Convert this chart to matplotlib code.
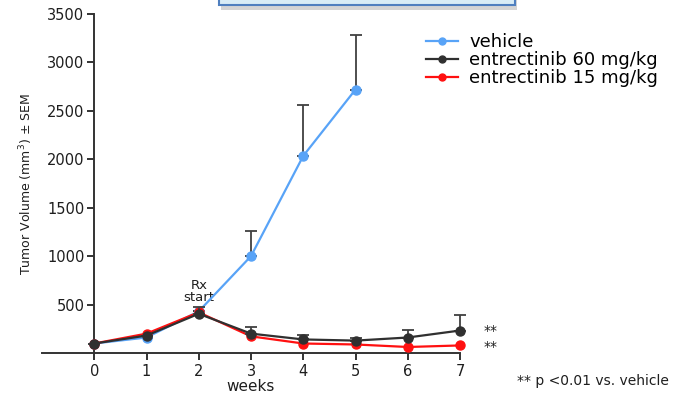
import matplotlib
matplotlib.use("Agg")
import matplotlib.pyplot as plt
from matplotlib.patches import Rectangle
from matplotlib.lines import Line2D
import numpy as np

plt.rcParams["font.family"] = ["DejaVu Sans"]

# tumour volume (mm^3) by week
weeks = [0, 1, 2, 3, 4, 5, 6, 7]
vehicle_weeks = [0, 1, 2, 3, 4, 5]
vehicle = [98, 160, 430, 1000, 2035, 2720]
vehicle_sem = [0, 0, 0, 255, 525, 560]
ent60 = [98, 180, 405, 200, 140, 128, 160, 232]
ent60_sem = [0, 0, 65, 70, 45, 25, 80, 160]
ent15 = [98, 200, 420, 172, 98, 88, 62, 78]

series_labels = ["vehicle", "entrectinib 60 mg/kg", "entrectinib 15 mg/kg"]
c_blue, c_black, c_red = "#58a3f7", "#303030", "#ff1010"
err_color = "#404040"
txt = "#1e1e1e"

fig = plt.figure(figsize=(6.74, 3.93), dpi=100)
ax = fig.add_axes([42 / 674, 40 / 393, 418 / 674, 339 / 393])

kw = dict(marker="o", markersize=6.5, linewidth=1.6, clip_on=False)
ax.errorbar(vehicle_weeks, vehicle, yerr=[np.zeros(len(vehicle_sem)), vehicle_sem],
            color=c_blue, ecolor=err_color, elinewidth=1.3, capsize=4, capthick=1.3,
            zorder=3, **kw)
ax.plot(weeks, ent15, color=c_red, zorder=4, **kw)
ax.errorbar(weeks, ent60, yerr=[np.zeros(len(ent60_sem)), ent60_sem],
            color=c_black, ecolor=err_color, elinewidth=1.3, capsize=4, capthick=1.3,
            zorder=5, **kw)

ax.set_xlim(-1, 7)
ax.set_ylim(0, 3500)
ax.spines["left"].set_position(("data", 0))
ax.spines["right"].set_visible(False)
ax.spines["top"].set_visible(False)
for s in ("left", "bottom"):
    ax.spines[s].set_color("#333333")
    ax.spines[s].set_linewidth(1.4)
ax.set_xticks(weeks)
ax.set_yticks([500, 1000, 1500, 2000, 2500, 3000, 3500])
ax.tick_params(axis="both", colors="#333333", width=1.4, length=5,
               labelsize=10.5, labelcolor=txt)
ax.tick_params(axis="y", pad=2)
ax.tick_params(axis="x", pad=3)
ax.set_xlabel("weeks", fontsize=11, color=txt, labelpad=0)

fig.text(26 / 674, 1 - 184 / 393, "Tumor Volume (mm$^3$) $\\pm$ SEM", rotation=90,
         ha="center", va="center", fontsize=9, color=txt)

ax.text(2, 505, "Rx\nstart", ha="center", va="bottom", fontsize=9.5,
        color=txt, linespacing=0.95)

ax.text(7.45, ent60[-1], "**", ha="left", va="center", fontsize=10, color=txt)
ax.text(7.45, ent15[-1] - 20, "**", ha="left", va="center", fontsize=10, color=txt)
fig.text(517 / 674, 1 - 381 / 393, "** p <0.01 vs. vehicle", ha="left", va="center",
         fontsize=10, color=txt)

handles = [Line2D([], [], color=c, marker="o", markersize=5, linewidth=1.6)
           for c in (c_blue, c_black, c_red)]
fig.legend(handles, series_labels, loc="upper left",
           bbox_to_anchor=(426 / 674, 1 - 33 / 393), frameon=False,
           fontsize=13, handlelength=1.8, handletextpad=0.6, labelspacing=0.0,
           borderpad=0, borderaxespad=0)

# title banner clipped at the top edge
fig.patches.append(Rectangle((221 / 674, 1 - 10 / 393), 296 / 674, 0.05,
                             transform=fig.transFigure, facecolor="#b8b8b8",
                             edgecolor="none", alpha=0.6, zorder=1))
fig.patches.append(Rectangle((219 / 674, 1 - 5 / 393), 296 / 674, 0.05,
                             transform=fig.transFigure, facecolor="#d8ecf6",
                             edgecolor="#4f7fbf", linewidth=1.5, zorder=2))

fig.savefig("out.png", dpi=100)
